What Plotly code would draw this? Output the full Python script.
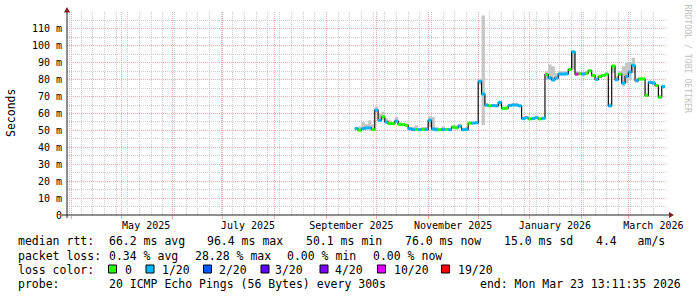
import plotly.graph_objects as go
import pandas as pd

# ---------------- data ----------------
graph_end = pd.Timestamp("2026-03-23 13:11:35")
graph_span_days = 359

sample_start = "2025-09-18"
sample_step_days = 2

median_ms = [
    51.0, 50.1, 51.0, 51.5, 51.5, 50.5, 62.0, 56.0, 58.0, 55.0,
    54.0, 54.0, 55.5, 53.5, 53.5, 53.0, 51.0, 50.5, 50.5, 50.4,
    50.6, 50.5, 56.0, 50.8, 50.4, 50.4, 50.5, 50.6, 50.4, 52.0,
    51.5, 52.5, 50.4, 50.5, 54.3, 54.3, 54.5, 79.0, 71.5, 65.0,
    64.5, 64.7, 64.5, 66.5, 63.0, 63.2, 64.8, 65.0, 65.0, 64.5,
    57.0, 57.5, 56.8, 57.0, 57.5, 56.8, 57.2, 83.0, 81.0, 79.8,
    81.0, 83.3, 83.3, 83.5, 86.0, 96.4, 83.3, 83.5, 83.3, 83.8,
    85.3, 82.4, 80.2, 81.8, 82.5, 83.2, 64.5, 88.0, 80.0, 83.3,
    78.0, 82.0, 84.5, 88.5, 79.4, 80.4, 80.4, 70.6, 78.4, 78.0,
    76.5, 69.6, 76.0,
]
loss_count = [
    1, 0, 1, 1, 1, 0, 1, 1, 0, 1,
    0, 0, 1, 0, 0, 0, 1, 1, 0, 1,
    0, 1, 1, 1, 1, 0, 1, 0, 1, 0,
    0, 1, 1, 1, 0, 1, 1, 1, 1, 1,
    0, 1, 1, 1, 0, 0, 1, 1, 1, 1,
    1, 1, 0, 1, 1, 0, 1, 0, 1, 1,
    1, 1, 1, 1, 0, 1, 10, 0, 1, 0,
    0, 0, 1, 0, 0, 0, 1, 0, 1, 0,
    1, 1, 1, 1, 1, 0, 0, 0, 1, 1,
    0, 0, 1,
]
smoke_hi_ms = [
    52.0, 52.5, 55.0, 54.0, 56.0, 53.5, 64.0, 60.0, 61.0, 57.0,
    56.0, 55.0, 58.0, 55.0, 54.0, 54.0, 52.0, 52.0, 53.0, 51.5,
    52.0, 52.0, 58.5, 58.0, 52.0, 51.5, 52.5, 51.5, 51.5, 53.0,
    53.0, 54.0, 51.5, 52.0, 55.0, 55.0, 55.5, 80.5, 118.0, 66.0,
    65.5, 65.5, 65.5, 67.5, 64.0, 64.0, 65.5, 66.0, 66.0, 65.5,
    58.0, 58.5, 57.5, 58.0, 58.5, 57.5, 58.0, 85.0, 89.0, 88.0,
    84.0, 85.0, 85.0, 85.0, 87.0, 97.5, 85.0, 84.5, 84.5, 85.0,
    86.0, 83.5, 81.5, 83.0, 83.5, 84.5, 66.0, 89.0, 82.0, 85.0,
    88.0, 90.0, 90.0, 93.0, 81.0, 81.5, 81.5, 72.0, 79.5, 79.0,
    77.5, 71.0, 77.0,
]
smoke_lo_ms = [
    50.5, 50.0, 50.3, 50.5, 50.5, 50.0, 61.0, 55.0, 56.0, 54.0,
    53.5, 53.5, 54.5, 53.0, 53.0, 52.5, 50.5, 50.0, 50.0, 50.0,
    50.2, 50.0, 52.0, 50.3, 50.0, 50.0, 50.0, 50.2, 50.0, 51.0,
    51.0, 51.5, 50.0, 50.0, 53.5, 53.8, 54.0, 77.0, 53.0, 64.0,
    64.0, 64.0, 64.0, 64.5, 62.5, 62.5, 64.0, 64.5, 64.5, 64.0,
    56.5, 57.0, 56.3, 56.5, 57.0, 56.3, 56.5, 80.0, 80.0, 79.0,
    80.0, 82.5, 82.5, 82.5, 85.0, 86.0, 82.5, 83.0, 82.5, 83.0,
    84.5, 81.5, 79.5, 81.0, 82.0, 82.5, 64.0, 84.0, 79.0, 82.0,
    76.0, 78.0, 80.0, 84.0, 78.5, 79.5, 79.5, 70.0, 77.5, 77.5,
    76.0, 69.0, 75.5,
]

loss_steps = [0, 1, 2, 3, 4, 10, 19]
loss_labels = ["0", "1/20", "2/20", "3/20", "4/20", "10/20", "19/20"]
loss_colors = ["#26ff00", "#00b8ff", "#0059ff", "#5e00ff", "#7e00ff", "#dd00ff", "#ff0000"]

y_tick_values = [0, 10, 20, 30, 40, 50, 60, 70, 80, 90, 100, 110]
y_tick_labels = ["0", "10 m", "20 m", "30 m", "40 m", "50 m", "60 m",
                 "70 m", "80 m", "90 m", "100 m", "110 m"]

month_label_starts = ["2025-05-01", "2025-07-01", "2025-09-01",
                      "2025-11-01", "2026-01-01", "2026-03-01"]
month_label_texts = ["May 2025", "July 2025", "September 2025",
                     "November 2025", "January 2026", "March 2026"]

rtt_texts = ["median rtt:", "66.2 ms avg", "96.4 ms max", "50.1 ms min",
             "76.0 ms now", "15.0 ms sd", "4.4   am/s"]
loss_texts = ["packet loss:", "0.34 % avg", "28.28 % max", "0.00 % min", "0.00 % now"]
probe_texts = ["probe:", "20 ICMP Echo Pings (56 Bytes) every 300s",
               "end: Mon Mar 23 13:11:35 2026"]
loss_color_title = "loss color:"

# ---------------- layout constants ----------------
W, H = 697, 297
PL, PT, PW, PH = 67, 12, 599, 203
FONT = "DejaVu Sans Mono"
MAJOR = "#ebaaaa"
MINOR = "#cbcbcb"
AXIS = "#1f1f1f"
ARROW = "#801f1f"


def px_x(px):
    return (px - PL) / PW


def px_y(py):
    return (PT + PH - py) / PH


graph_start = graph_end - pd.Timedelta(days=graph_span_days)
step = pd.Timedelta(days=sample_step_days)
times = pd.date_range(sample_start, periods=len(median_ms), freq=step)
t_edge = list(times) + [times[-1] + step]

fig = go.Figure()

# smoke
fig.add_trace(go.Scatter(x=t_edge, y=smoke_lo_ms + [smoke_lo_ms[-1]], mode="lines",
                         line=dict(width=0, shape="hv"), hoverinfo="skip", showlegend=False))
fig.add_trace(go.Scatter(x=t_edge, y=smoke_hi_ms + [smoke_hi_ms[-1]], mode="lines",
                         line=dict(width=0, shape="hv"), fill="tonexty",
                         fillcolor="#c6c6c6", hoverinfo="skip", showlegend=False))
# median connecting line
fig.add_trace(go.Scatter(x=t_edge, y=median_ms + [median_ms[-1]], mode="lines",
                         line=dict(width=1.2, shape="hv", color="#111111"),
                         hoverinfo="skip", showlegend=False))
# coloured median segments by loss
for lvl, col in zip(loss_steps, loss_colors):
    xs, ys = [], []
    for t, m, l in zip(times, median_ms, loss_count):
        if l == lvl:
            xs += [t, t + step, None]
            ys += [m, m, None]
    if xs:
        fig.add_trace(go.Scatter(x=xs, y=ys, mode="lines",
                                 line=dict(width=3, color=col),
                                 hoverinfo="skip", showlegend=False))

# invisible trace so that the label axis is drawn
fig.add_trace(go.Scatter(x=[graph_start, graph_end], y=[0, 0], xaxis="x2", mode="markers",
                         marker=dict(opacity=0), hoverinfo="skip", showlegend=False))

grid_months = pd.date_range(graph_start.normalize(), graph_end, freq="MS")
label_pos = [pd.Timestamp(d) + pd.Timedelta(days=15) for d in month_label_starts]

fig.update_layout(
    width=W, height=H,
    margin=dict(l=PL, r=W - PL - PW, t=PT, b=H - PT - PH, pad=0),
    paper_bgcolor="white", plot_bgcolor="white",
    showlegend=False,
    font=dict(family=FONT, color="black", size=10),
    xaxis=dict(type="date", range=[graph_start, graph_end], tickmode="array",
               tickvals=list(grid_months), showticklabels=False,
               ticks="outside", ticklen=3, tickcolor=MAJOR, tickwidth=1,
               showgrid=True, gridcolor=MAJOR, griddash="1px,1px", gridwidth=1,
               minor=dict(dtick=7 * 86400000, tick0="2025-03-31", showgrid=True,
                          gridcolor=MINOR, griddash="1px,1px", gridwidth=1),
               zeroline=False, showline=False, fixedrange=True),
    xaxis2=dict(type="date", overlaying="x", side="bottom", anchor="y",
                range=[graph_start, graph_end], tickmode="array",
                tickvals=label_pos, ticktext=month_label_texts,
                showgrid=False, ticks="", ticklabelstandoff=3,
                zeroline=False, showline=False,
                tickfont=dict(family=FONT, size=10, color="black"), fixedrange=True),
    yaxis=dict(range=[0, 120], tickmode="array", tickvals=y_tick_values,
               ticktext=y_tick_labels, showgrid=True, gridcolor=MAJOR,
               griddash="1px,1px", gridwidth=1,
               minor=dict(dtick=5, tick0=0, showgrid=True, gridcolor=MINOR,
                          griddash="1px,1px", gridwidth=1),
               ticks="", ticklabelstandoff=4, zeroline=False, showline=False,
               tickfont=dict(family=FONT, size=10, color="black"), fixedrange=True),
)

shapes = [
    dict(type="line", xref="paper", yref="paper", x0=px_x(67), x1=px_x(67),
         y0=px_y(218), y1=px_y(11), line=dict(color=AXIS, width=1)),
    dict(type="line", xref="paper", yref="paper", x0=px_x(62), x1=px_x(670),
         y0=px_y(215), y1=px_y(215), line=dict(color=AXIS, width=1)),
    dict(type="path", xref="paper", yref="paper",
         path=f"M {px_x(64)} {px_y(12.5)} L {px_x(70)} {px_y(12.5)} L {px_x(67)} {px_y(7)} Z",
         fillcolor=ARROW, line=dict(color=ARROW, width=0)),
    dict(type="path", xref="paper", yref="paper",
         path=f"M {px_x(669)} {px_y(212)} L {px_x(669)} {px_y(218)} L {px_x(674)} {px_y(215)} Z",
         fillcolor=ARROW, line=dict(color=ARROW, width=0)),
]

annotations = []
LEG_FS = 11.5


def add_text(txt, x, y, **kw):
    d = dict(text=txt, x=px_x(x), y=px_y(y), xref="paper", yref="paper",
             xanchor="left", yanchor="middle", showarrow=False,
             font=dict(family=FONT, size=LEG_FS, color="black"))
    d.update(kw)
    annotations.append(d)


rtt_x = [16, 107, 205, 304, 403, 502, 594]
for txt, x in zip(rtt_texts, rtt_x):
    add_text(txt, x, 241)
loss_x = [16, 107, 192.5, 285, 370.5]
for txt, x in zip(loss_texts, loss_x):
    add_text(txt, x, 255.5)
add_text(loss_color_title, 16, 269.5)
box_x = [108.5, 146, 203.5, 261, 320, 377.5, 441.5]
lbl_x = [123, 160, 216.5, 273, 333, 391.5, 456]
for lab, col, bx, lx in zip(loss_labels, loss_colors, box_x, lbl_x):
    shapes.append(dict(type="rect", xref="paper", yref="paper",
                       x0=px_x(bx), x1=px_x(bx + 8), y0=px_y(265), y1=px_y(273),
                       fillcolor=col, line=dict(color="black", width=1)))
    add_text(lab, lx, 269.5)
probe_x = [16, 107, 478]
for txt, x in zip(probe_texts, probe_x):
    add_text(txt, x, 283.5)

# axis title and watermark
annotations.append(dict(text="Seconds", x=px_x(11), y=px_y(113), xref="paper", yref="paper",
                        xanchor="center", yanchor="middle", textangle=-90, showarrow=False,
                        font=dict(family=FONT, size=LEG_FS, color="black")))
annotations.append(dict(text="RRDTOOL / TOBI OETIKER", x=px_x(687.5), y=px_y(59),
                        xref="paper", yref="paper", xanchor="center", yanchor="middle",
                        textangle=90, showarrow=False,
                        font=dict(family=FONT, size=8.2, color="#c0c0c0")))

fig.update_layout(shapes=shapes, annotations=annotations)
fig.write_html("out.html")
